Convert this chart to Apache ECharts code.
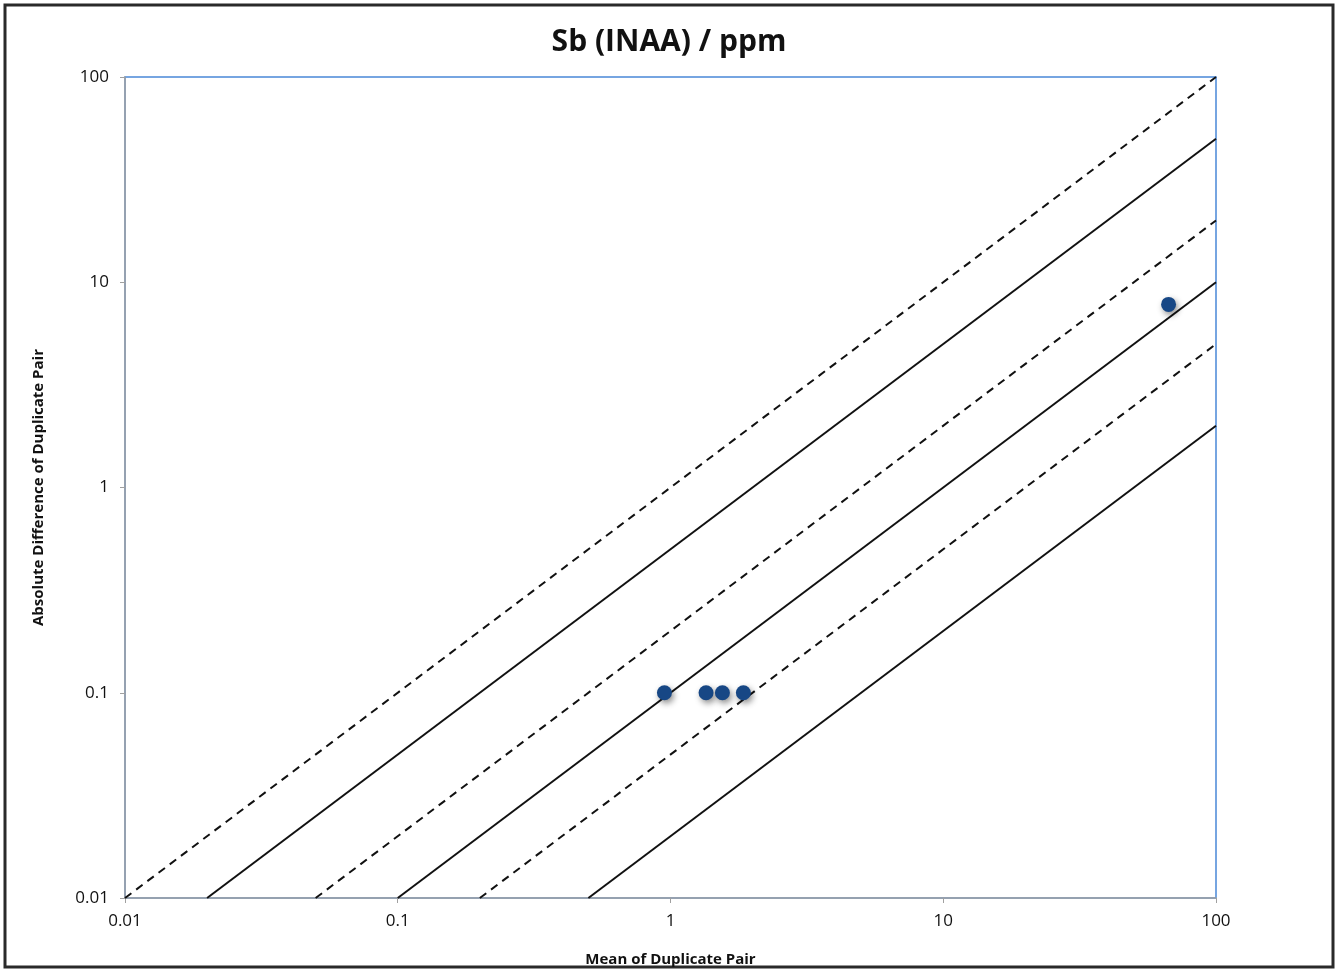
<!DOCTYPE html>
<html>
<head>
<meta charset="utf-8">
<script src="https://cdn.jsdelivr.net/npm/echarts@6/dist/echarts.min.js"></script>
<style>
  html, body { margin: 0; padding: 0; background: #fff; }
  #main { width: 1338px; height: 972px; }
</style>
</head>
<body>
<div id="main"></div>
<script>
// duplicate pairs: mean vs absolute difference
var meanVals = [0.95, 1.35, 1.55, 1.85, 67];
var diffVals = [0.1, 0.1, 0.1, 0.1, 7.8];

// reference lines y = k * x
var ratios = [1, 0.5, 0.2, 0.1, 0.05, 0.02];
var dashed = [true, false, true, false, true, false];

var axisMin = 0.01, axisMax = 100;

var ec = echarts.init(document.getElementById('main'));

var series = [];
ratios.forEach(function (k, i) {
    series.push({
        type: 'line',
        data: [[axisMin / k, axisMin], [axisMax, axisMax * k]],
        symbol: 'none',
        silent: true,
        lineStyle: { color: '#111', width: 2, type: dashed[i] ? [8, 6] : 'solid' },
        z: 2
    });
});
series.push({
    type: 'scatter',
    data: meanVals.map(function (m, i) { return [m, diffVals[i]]; }),
    symbolSize: 15,
    itemStyle: {
        color: '#174785',
        opacity: 1,
        shadowColor: 'rgba(0,0,0,0.45)',
        shadowBlur: 6,
        shadowOffsetX: 2,
        shadowOffsetY: 3
    },
    z: 5
});

ec.setOption({
    animation: false,
    backgroundColor: '#fff',
    title: {
        text: 'Sb (INAA) / ppm',
        left: 'center',
        top: 22,
        textStyle: { fontFamily: 'Open Sans', fontWeight: 'bold', fontSize: 30, color: '#111' }
    },
    graphic: [{
        type: 'rect',
        shape: { x: 5, y: 5, width: 1328, height: 962 },
        style: { fill: 'none', stroke: '#2a2a2a', lineWidth: 3 },
        silent: true
    }],
    grid: {
        left: 125, top: 77, width: 1091, height: 823,
        show: true, borderColor: '#4a88d8', borderWidth: 1.5
    },
    xAxis: {
        type: 'log', min: axisMin, max: axisMax, logBase: 10,
        name: 'Mean of Duplicate Pair',
        nameLocation: 'middle', nameGap: 54,
        nameTextStyle: { fontFamily: 'Open Sans', fontWeight: 'bold', fontSize: 15, color: '#111' },
        axisLine: { show: true, lineStyle: { color: '#a0a0a0', width: 1.5 } },
        axisTick: { show: true, length: 5, lineStyle: { color: '#a0a0a0' } },
        axisLabel: { fontFamily: 'Open Sans', fontSize: 17, color: '#111', margin: 15 },
        splitLine: { show: false },
        minorTick: { show: false }
    },
    yAxis: {
        type: 'log', min: axisMin, max: axisMax, logBase: 10,
        name: 'Absolute Difference of Duplicate Pair',
        nameLocation: 'middle', nameGap: 79,
        nameTextStyle: { fontFamily: 'Open Sans', fontWeight: 'bold', fontSize: 15, color: '#111' },
        axisLine: { show: true, lineStyle: { color: '#a0a0a0', width: 1.5 } },
        axisTick: { show: true, length: 5, lineStyle: { color: '#a0a0a0' } },
        axisLabel: { fontFamily: 'Open Sans', fontSize: 17, color: '#111', margin: 16 },
        splitLine: { show: false }
    },
    series: series
});
</script>
</body>
</html>
